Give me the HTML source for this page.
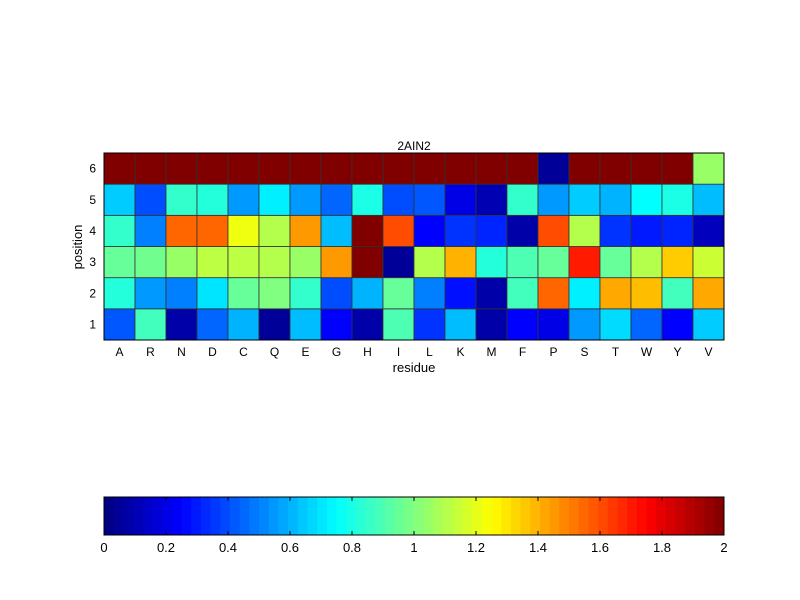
<!DOCTYPE html>
<html><head><meta charset="utf-8"><style>
body{margin:0;background:#fff;width:800px;height:600px;overflow:hidden}
svg{display:block;font-family:"Liberation Sans",sans-serif}
</style></head><body>
<svg id="chart" width="800" height="600" xmlns="http://www.w3.org/2000/svg">
<text x="414" y="150" font-size="12" text-anchor="middle">2AIN2</text>
<text x="414" y="372" font-size="13" text-anchor="middle">residue</text>
<text x="82" y="247" font-size="13" text-anchor="middle" transform="rotate(-90 82 247)">position</text>
<g id="cells"></g>
<g id="axes"></g>
<g id="cbar"></g>
</svg>
<script>
const residues=["A","R","N","D","C","Q","E","G","H","I","L","K","M","F","P","S","T","W","Y","V"];
const positions=[1,2,3,4,5,6];
const row1=[0.42,0.88,0.08,0.45,0.6,0.05,0.62,0.25,0.08,0.9,0.35,0.62,0.08,0.25,0.2,0.55,0.68,0.45,0.25,0.65];
const row2=[0.82,0.55,0.5,0.7,0.95,1.0,0.85,0.4,0.6,0.95,0.5,0.28,0.08,0.88,1.55,0.72,1.42,1.38,0.88,1.42];
const row3=[0.95,0.97,1.05,1.12,1.12,1.1,1.05,1.45,2,0.05,1.1,1.4,0.82,0.9,0.95,1.7,0.95,1.1,1.35,1.15];
const row4=[0.85,0.5,1.55,1.55,1.22,1.1,1.45,0.62,2,1.6,0.25,0.35,0.32,0.08,1.6,1.1,0.35,0.3,0.32,0.12];
const row5=[0.65,0.4,0.85,0.82,0.55,0.72,0.55,0.45,0.8,0.4,0.42,0.2,0.1,0.85,0.55,0.65,0.6,0.75,0.8,0.62];
const row6=[2,2,2,2,2,2,2,2,2,2,2,2,2,2,0.05,2,2,2,2,1.05];
const cbTicks=[0,0.2,0.4,0.6,0.8,1,1.2,1.4,1.6,1.8,2];
const rows=[row1,row2,row3,row4,row5,row6];
const vmin=0,vmax=2;
const L=104,R=724,T=153,B=340;
const cw=(R-L)/residues.length, ch=(B-T)/positions.length;
const xs=i=>L+i*cw, ys=j=>B-(j+1)*ch;
function jet(v){let t=Math.max(0,Math.min(1,(v-vmin)/(vmax-vmin)));
 const f=(x)=>Math.max(0,Math.min(1,x));
 const r=f(Math.min(4*t-1.5,-4*t+4.5)),g=f(Math.min(4*t-0.5,-4*t+3.5)),b=f(Math.min(4*t+0.5,-4*t+2.5));
 return `rgb(${Math.round(r*255)},${Math.round(g*255)},${Math.round(b*255)})`;}
const NS="http://www.w3.org/2000/svg";
function mk(tag,attrs,parent){const e=document.createElementNS(NS,tag);for(const k in attrs)e.setAttribute(k,attrs[k]);parent.appendChild(e);return e;}
const cells=document.getElementById('cells');
rows.forEach((row,j)=>row.forEach((v,i)=>{
 const r=mk('rect',{x:xs(i),y:ys(j),width:cw,height:ch,fill:jet(v),stroke:'#333','stroke-width':0.8},cells);
 
 
}));
const axes=document.getElementById('axes');
const fr=mk('rect',{x:L,y:T,width:R-L,height:B-T,fill:'none',stroke:'#000','stroke-width':1},axes);


residues.forEach((r,i)=>{const t=mk('text',{x:xs(i)+cw/2,y:356,'font-size':12,'text-anchor':'middle'},axes);t.textContent=r;
 
 });
positions.forEach((p,j)=>{const t=mk('text',{x:96,y:ys(j)+ch/2+4,'font-size':12,'text-anchor':'end'},axes);t.textContent=p;
 
 });
const cb=document.getElementById('cbar');
const cT=497,cB=535,n=64,bw=(R-L)/n;
for(let k=0;k<n;k++){const r=mk('rect',{x:L+k*bw,y:cT,width:bw+0.5,height:cB-cT,fill:jet(vmin+(k+0.5)/n*(vmax-vmin))},cb);
 
 }
const cf=mk('rect',{x:L,y:cT,width:R-L,height:cB-cT,fill:'none',stroke:'#000','stroke-width':1},cb);


cbTicks.forEach(v=>{const x=L+(v-vmin)/(vmax-vmin)*(R-L);
 mk('line',{x1:x,x2:x,y1:cT,y2:cT+4,stroke:'#000'},cb);mk('line',{x1:x,x2:x,y1:cB,y2:cB-4,stroke:'#000'},cb);
 const t=mk('text',{x:x,y:552,'font-size':13,'text-anchor':'middle'},cb);t.textContent=String(v);
 
 });
</script>
</body></html>
